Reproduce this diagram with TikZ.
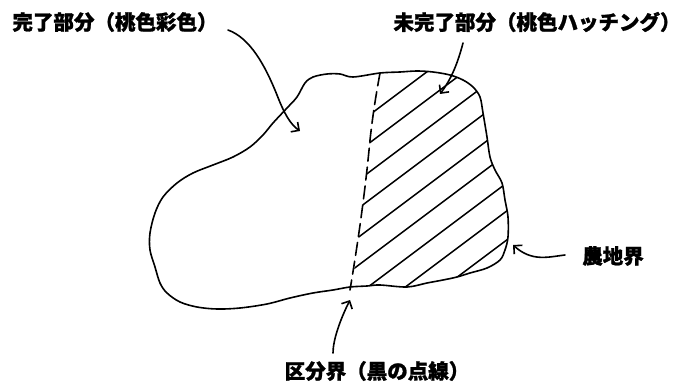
\documentclass[tikz,border=0pt]{standalone}
\usepackage{fontspec}
\newfontfamily\jp{Noto Sans CJK JP}[BoldFeatures={FakeBold=1.2}]
\usetikzlibrary{arrows.meta}
\tikzset{
  lbl/.style={font=\jp\bfseries\fontsize{20.5}{24}\selectfont, inner sep=0pt},
  pen/.style={line width=1.6pt, line cap=round, line join=round},
  arr/.style={pen, -{Straight Barb[length=6pt,width=12pt,line width=1.6pt]}},
  hatch/.style={line width=1.5pt},
}
\begin{document}
\begin{tikzpicture}[x=1pt,y=-1pt]
\useasboundingbox (0,0) rectangle (685,390);
\def\outline{plot[smooth cycle, tension=0.55] coordinates {
 (380,73) (353,77) (340,74) (327,74) (313,77) (305,83) (297,97) (287,108)
 (273,123) (263,135) (250,147) (233,157) (213,165) (193,173) (177,183)
 (163,197) (155,213) (150,233) (150,250) (155,267) (160,283) (167,293)
 (180,302) (197,307) (217,309) (240,308) (267,304) (290,298) (313,293)
 (333,290) (350,287) (367,286) (380,285) (407,287) (427,283) (443,280)
 (457,277) (470,273) (487,268) (500,260) (505,250) (508,237) (508,217)
 (505,200) (502,183) (495,170) (490,157) (487,137) (483,113) (480,97)
 (473,87) (463,80) (450,75) (433,72) (417,71) (400,72)}}
% hatching of the unfinished part
\begin{scope}
  \clip \outline;
  \clip (380,60) -- (380,73) .. controls (376,95) and (373,113) .. (370,140)
        .. controls (366,183) and (360,230) .. (350,300) -- (600,300) -- (600,60) -- cycle;
  \foreach \c in {392,420,449,477,506,534,563,591,620}
    \draw[hatch] (330,\c-247.5) -- (530,\c-397.5);
\end{scope}
% field outline
\draw[pen] \outline;
% dashed boundary
\draw[pen, dash pattern=on 13pt off 6pt] (380,73) .. controls (376,95) and (373,113) .. (370,140)
      .. controls (366,183) and (360,230) .. (350,290);
% labels
\node[lbl] (l1) at (115,22) {完了部分（桃色彩色）};
\node[lbl] (l2) at (537,22) {未完了部分（桃色ハッチング）};
\node[lbl] (l3) at (613,256) {農地界};
\node[lbl] (l4) at (377,371) {区分界（黒の点線）};
% arrow end points
\coordinate (s1) at (228,30);  \coordinate (e1) at (300,131);
\coordinate (s2) at (463,43);  \coordinate (e2) at (440,94);
\coordinate (s3) at (565,255); \coordinate (e3) at (513,245);
\coordinate (s4) at (333,353); \coordinate (e4) at (350,300);
\draw[arr] (s1) .. controls (250,38) and (265,65) .. (277,95) .. controls (284,113) and (290,124) .. (e1);
\draw[arr] (s2) .. controls (458,62) and (452,78) .. (e2);
\draw[arr] (s3) .. controls (548,257) and (532,262) .. (e3);
\draw[arr] (s4) .. controls (333,340) and (340,320) .. (e4);
\end{tikzpicture}
\end{document}
